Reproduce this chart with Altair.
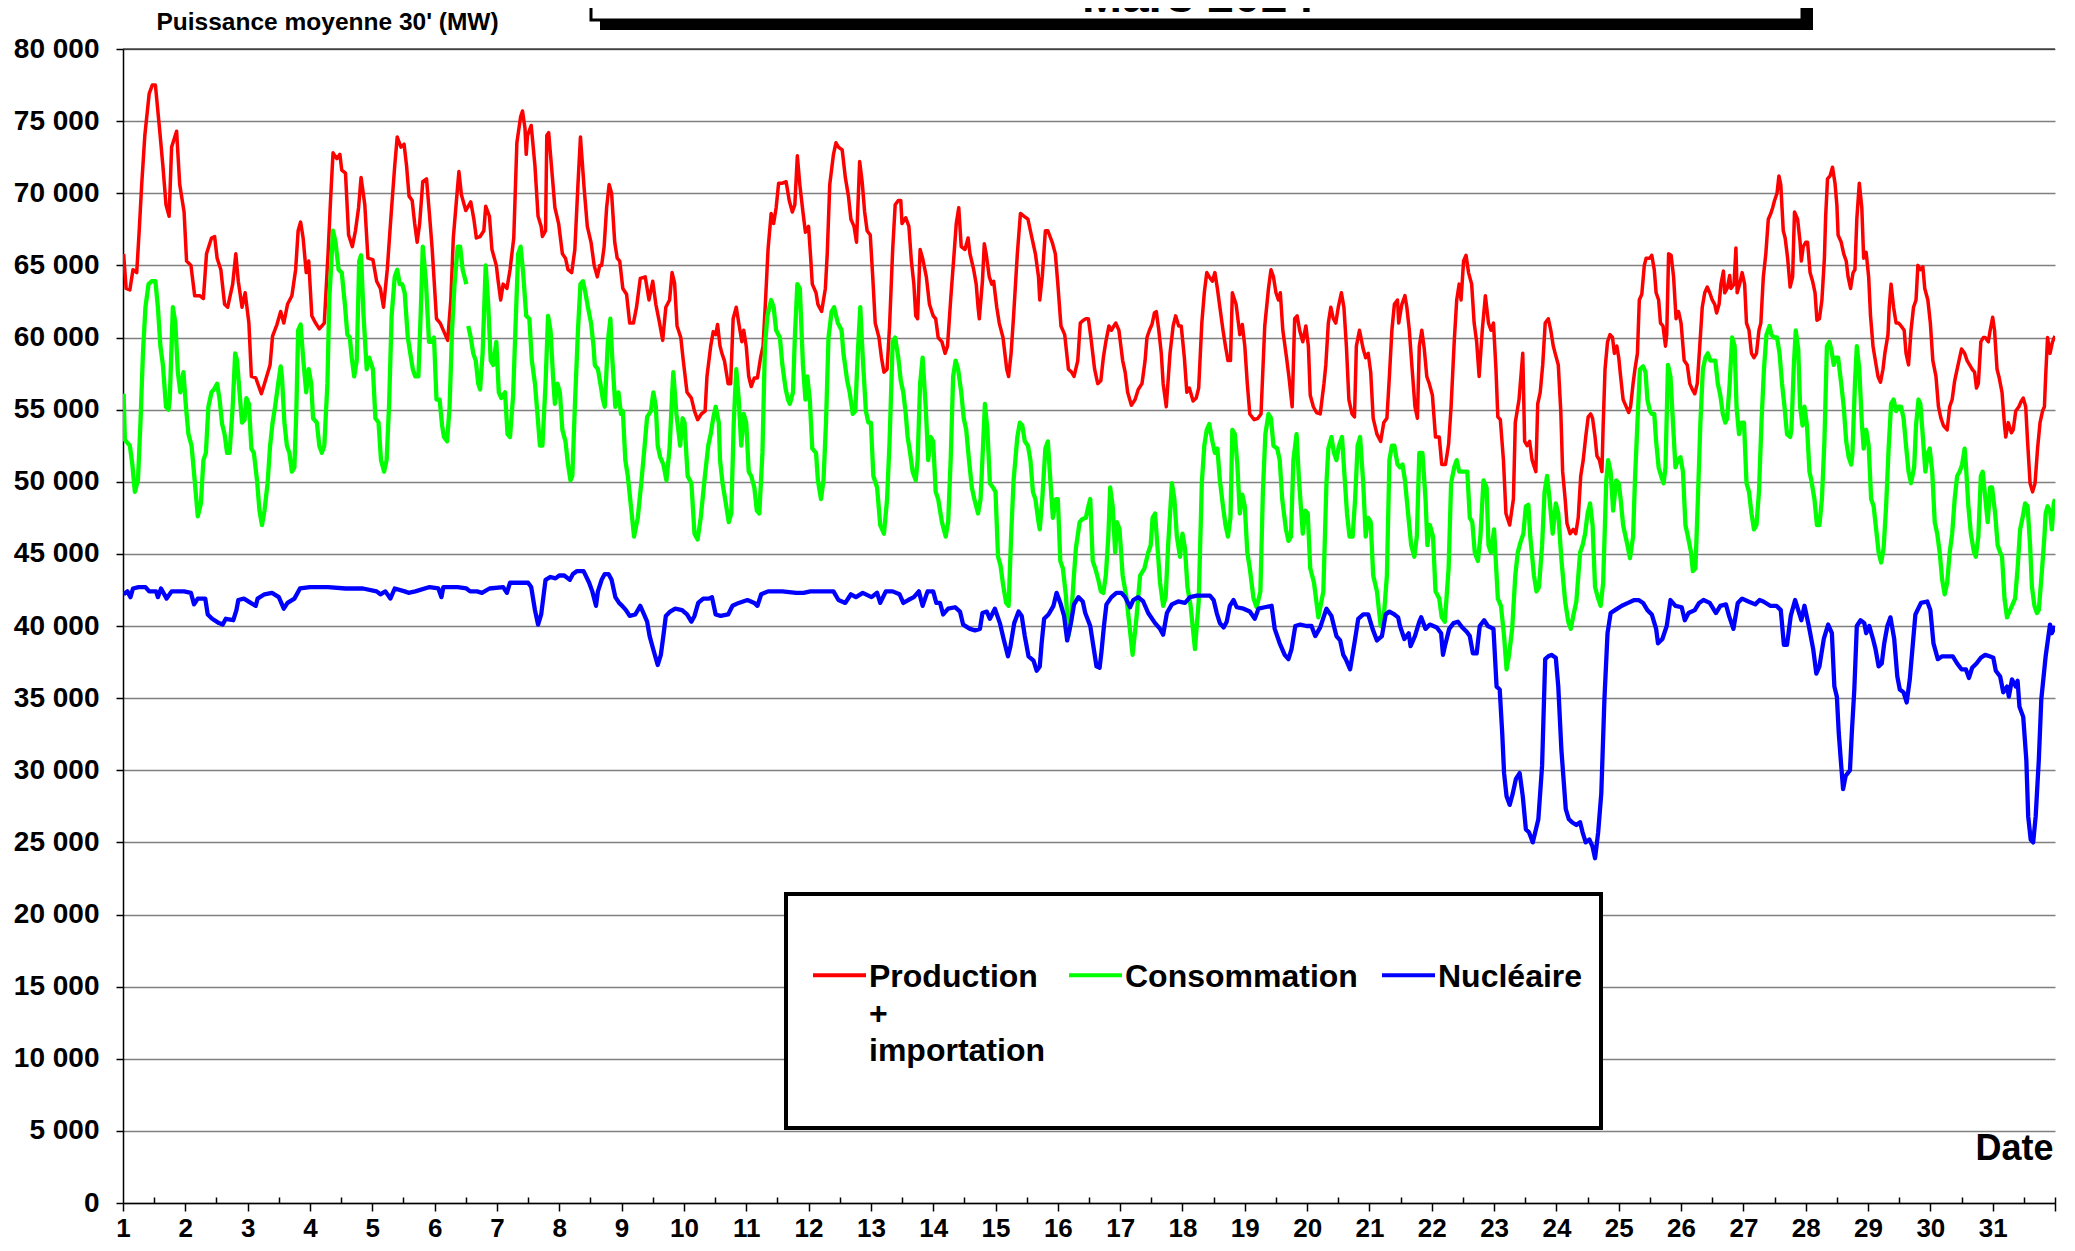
import altair as alt
import pandas as pd

SERIES = ["Production + importation", "Consommation", "Nucléaire"]
COLORS = ["#FF0000", "#00FF00", "#0000FF"]
DAY_TICKS = list(range(1, 33))
HALF_DAY_TICKS = [d + 0.5 for d in range(1, 32)] + [32]
Y_TICKS = list(range(0, 80001, 5000))
Y_TOP = [80000]

# (jour, MW)
PROD = [(1.01,65800),(1.05,63400),(1.11,63300),(1.16,64700),(1.22,64500),(1.26,67400),(1.30,70600),(1.35,74000),(1.42,76900),(1.47,77500),(1.52,77500),(1.59,74300),(1.64,71900),(1.69,69200),(1.74,68400),(1.78,73200),(1.86,74300),(1.91,70600),(1.98,68700),(2.02,65300),(2.09,65000),(2.15,62900),(2.23,62900),(2.29,62700),(2.34,65800),(2.42,66900),(2.47,67000),(2.51,65500),(2.57,64700),(2.63,62300),(2.68,62100),(2.76,63700),(2.81,65800),(2.85,63900),(2.91,62100),(2.96,63100),(3.02,61000),(3.06,57300),(3.13,57200),(3.22,56100),(3.27,56800),(3.36,58100),(3.40,60100),(3.47,60900),(3.53,61800),(3.58,61000),(3.64,62300),(3.71,62900),(3.77,64700),(3.81,67400),(3.85,68000),(3.89,66900),(3.94,64500),(3.98,65300),(4.03,61500),(4.09,61000),(4.15,60600),(4.23,61000),(4.29,65800),(4.33,69500),(4.37,72800),(4.43,72400),(4.48,72700),(4.51,71600),(4.57,71400),(4.62,67100),(4.68,66300),(4.73,67400),(4.78,69000),(4.82,71100),(4.88,69200),(4.93,65500),(5.01,65400),(5.07,63900),(5.13,63400),(5.18,62100),(5.24,64700),(5.30,68400),(5.36,71900),(5.40,73900),(5.46,73200),(5.51,73400),(5.55,71900),(5.59,69800),(5.64,69500),(5.68,67900),(5.72,66600),(5.76,67900),(5.81,70800),(5.87,71000),(5.92,68400),(5.96,66200),(6.03,61300),(6.09,61000),(6.17,60200),(6.21,59800),(6.26,62600),(6.30,66900),(6.36,70000),(6.39,71500),(6.43,69900),(6.50,68800),(6.58,69400),(6.63,68200),(6.67,66900),(6.73,67000),(6.79,67400),(6.82,69100),(6.88,68400),(6.92,66100),(6.99,65000),(7.02,63900),(7.06,62600),(7.10,63700),(7.16,63400),(7.21,64700),(7.27,66900),(7.32,73500),(7.38,75300),(7.41,75700),(7.45,74500),(7.47,72700),(7.49,74000),(7.55,74700),(7.61,71900),(7.66,68400),(7.71,67700),(7.73,67000),(7.78,67400),(7.80,74000),(7.83,74200),(7.89,71100),(7.93,69000),(7.99,67900),(8.05,65800),(8.10,65500),(8.14,64700),(8.20,64500),(8.25,66100),(8.30,70600),(8.34,73900),(8.40,70300),(8.45,67700),(8.51,66600),(8.56,65000),(8.61,64200),(8.65,65000),(8.68,65000),(8.72,66300),(8.76,69000),(8.80,70600),(8.84,70000),(8.89,66600),(8.93,65500),(8.97,65300),
(9.02,63400),(9.08,63000),(9.13,61000),(9.19,61000),(9.24,62100),(9.30,64100),(9.38,64200),(9.44,62600),(9.50,63900),(9.55,62300),(9.61,61000),(9.66,59800),(9.71,62100),(9.77,62600),(9.81,64500),(9.85,63800),(9.89,60800),(9.95,60000),(9.99,58400),(10.05,56200),(10.12,55800),(10.17,54900),(10.22,54300),(10.28,54700),(10.34,54900),(10.37,57300),(10.43,59400),(10.47,60400),(10.51,60200),(10.54,60900),(10.58,59400),(10.61,58900),(10.65,58400),(10.71,56800),(10.75,56800),(10.79,61300),(10.84,62100),(10.88,61000),(10.93,59700),(10.96,60500),(11.00,59400),(11.04,57300),(11.08,56600),(11.13,57200),(11.18,57200),(11.23,58600),(11.27,59400),(11.31,62600),(11.35,66100),(11.40,68600),(11.44,67900),(11.48,69000),(11.52,70700),(11.58,70700),(11.64,70800),(11.69,69500),(11.74,68700),(11.78,69200),(11.82,72600),(11.86,70600),(11.91,68700),(11.95,67300),(12.00,67700),(12.03,65800),(12.06,63700),(12.12,63100),(12.15,62300),(12.21,61800),(12.27,63400),(12.30,65800),(12.34,70600),(12.40,72700),(12.44,73500),(12.48,73200),(12.54,73000),(12.59,71100),(12.64,69800),(12.68,68200),(12.73,67700),(12.77,66600),(12.82,72200),(12.86,70800),(12.90,68700),(12.94,67400),(12.99,67100),(13.03,64200),(13.07,61000),(13.13,60000),(13.17,58600),(13.21,57600),(13.26,57800),(13.30,60800),(13.35,66100),(13.39,69200),(13.44,69500),(13.48,69500),(13.50,67900),(13.56,68300),(13.61,67700),(13.65,65300),(13.69,63700),(13.72,61500),(13.75,61300),(13.79,66100),(13.83,65500),(13.89,64200),(13.94,62300),(14.00,61500),(14.04,61300),(14.08,60000),(14.14,59700),(14.19,58900),(14.23,59400),(14.28,62600),(14.33,65500),(14.37,67900),(14.41,69000),(14.45,66300),(14.51,66100),(14.56,66900),(14.59,65800),(14.65,64700),(14.69,63700),(14.72,62100),(14.74,61300),(14.79,63900),(14.82,66500),(14.85,65800),(14.90,64200),(14.94,63700),(14.97,63900),(15.02,62100),(15.06,61000),(15.12,60000),(15.18,57800),(15.21,57300),(15.25,58900),(15.29,61500),(15.35,65800),(15.40,68600),(15.46,68400),(15.52,68200),(15.56,67400),(15.60,66600),(15.64,65800),(15.69,64200),(15.71,62600),(15.75,64200),(15.80,67400),(15.84,67400),(15.91,66600),(15.96,65800),(16.00,63700),(16.05,60800),(16.11,60200),(16.17,57800),(16.22,57600),(16.26,57300),(16.32,58400),(16.36,61000),(16.41,61200),(16.45,61300),(16.49,61300),(16.53,60000),(16.59,57800),(16.64,56800),(16.69,57000),(16.73,58600),(16.77,59700),(16.82,60800),(16.86,60500),(16.90,60800),(16.93,61000),(16.98,60500),
(17.04,58400),(17.08,57600),(17.12,56200),(17.18,55300),(17.24,55700),(17.29,56400),(17.35,56800),(17.40,58400),(17.43,60000),(17.47,60500),(17.51,60900),(17.55,61700),(17.58,61800),(17.62,60500),(17.66,58900),(17.69,56800),(17.74,55200),(17.80,58900),(17.85,60800),(17.89,61500),(17.94,60800),(17.98,60800),(18.03,58600),(18.07,56200),(18.11,56500),(18.17,55600),(18.22,55800),(18.26,56500),(18.31,61000),(18.35,63100),(18.39,64500),(18.43,64200),(18.48,63900),(18.52,64500),(18.56,63400),(18.60,62100),(18.65,60500),(18.69,59400),(18.73,58400),(18.77,58400),(18.80,63100),(18.86,62300),(18.92,60200),(18.96,60900),(19.00,59400),(19.04,56800),(19.08,54700),(19.15,54300),(19.21,54400),(19.26,54700),(19.32,60800),(19.38,63400),(19.42,64700),(19.46,64200),(19.50,63100),(19.54,62600),(19.57,63100),(19.61,60500),(19.67,58600),(19.71,57200),(19.76,55200),(19.80,61300),(19.84,61500),(19.88,60500),(19.93,59700),(19.98,60800),(20.02,59400),(20.05,56000),(20.10,55200),(20.15,54800),(20.21,54700),(20.27,56800),(20.30,58100),(20.34,61000),(20.38,62100),(20.42,61300),(20.46,61000),(20.50,62100),(20.55,63100),(20.59,62100),(20.63,59400),(20.67,55700),(20.72,54700),(20.76,54500),(20.79,59400),(20.84,60500),(20.90,59200),(20.94,58600),(20.98,58900),(21.02,57600),(21.06,54400),(21.12,53300),(21.18,52800),(21.23,54100),(21.28,54400),(21.32,57300),(21.36,60500),(21.40,62300),(21.45,62600),(21.47,61000),(21.52,62300),(21.57,62900),(21.60,62100),(21.64,60500),(21.68,58100),(21.73,55200),(21.77,54400),(21.80,59400),(21.84,60500),(21.88,59200),(21.92,57300),(21.96,56800),(22.01,56000),(22.06,53100),(22.12,53100),(22.16,51200),(22.22,51200),(22.27,52600),(22.31,55200),(22.36,59700),(22.40,62600),(22.44,63700),(22.47,62600),(22.51,65300),(22.55,65700),(22.59,64500),(22.64,63700),(22.68,61000),(22.72,59700),(22.76,57300),(22.81,60500),(22.86,62900),(22.91,61000),(22.95,60500),(22.99,61000),(23.03,57800),(23.06,54500),(23.10,54300),(23.15,51500),(23.19,47800),(23.25,47000),(23.31,48800),(23.34,54100),(23.40,55700),(23.46,58900),(23.49,52800),(23.53,52500),(23.57,52800),(23.61,51500),(23.67,50700),(23.70,55400),(23.74,56200),(23.78,58100),(23.82,61000),(23.87,61300),(23.91,60500),(23.95,59400),(23.98,58900),
(24.03,58100),(24.07,54900),(24.10,50700),(24.14,48800),(24.17,47100),(24.22,46400),(24.27,46700),(24.31,46400),(24.35,47500),(24.39,50400),(24.43,51500),(24.47,53100),(24.51,54500),(24.55,54700),(24.58,54400),(24.62,53100),(24.65,51800),(24.69,51500),(24.73,50700),(24.75,53900),(24.78,57800),(24.82,59700),(24.86,60200),(24.90,60000),(24.93,58900),(24.97,59400),(25.00,58600),(25.03,57300),(25.07,55700),(25.10,55400),(25.16,54800),(25.19,55200),(25.23,56800),(25.26,57800),(25.30,58900),(25.33,62600),(25.37,63000),(25.41,65000),(25.44,65500),(25.50,65500),(25.53,65700),(25.57,64700),(25.60,63100),(25.64,62600),(25.67,61000),(25.71,60800),(25.75,59400),(25.77,60200),(25.80,65800),(25.84,65700),(25.88,64200),(25.92,61300),(25.96,61800),(26.00,61000),(26.05,58400),(26.10,58100),(26.14,56800),(26.18,56400),(26.22,56100),(26.26,56800),(26.30,59400),(26.34,62100),(26.38,63100),(26.42,63500),(26.46,63100),(26.50,62600),(26.54,62300),(26.57,61700),(26.61,62300),(26.64,63700),(26.68,64600),(26.70,63100),(26.74,63400),(26.78,64300),(26.80,63400),(26.85,63700),(26.88,66200),(26.90,63100),(26.94,63700),(26.98,64500),(27.02,63700),(27.05,61000),(27.09,60500),(27.13,58900),(27.17,58600),(27.21,58900),(27.25,60500),(27.28,61000),(27.32,64200),(27.36,65800),(27.40,68200),(27.44,68600),(27.47,69000),(27.50,69500),(27.54,70000),(27.57,71200),(27.60,70600),(27.64,67400),(27.67,66900),(27.71,65500),(27.75,63500),(27.79,64200),(27.82,68700),(27.87,68200),(27.91,66600),(27.93,65300),(27.96,66300),(28.00,66600),(28.03,66600),(28.07,64500),(28.11,63900),(28.15,63100),(28.18,61200),(28.22,61300),(28.26,62600),(28.30,65500),(28.32,68400),(28.35,71000),(28.39,71200),(28.43,71800),(28.47,70700),(28.50,69200),(28.52,67100),(28.57,66600),(28.61,65800),(28.65,65300),(28.68,64200),(28.72,63400),(28.76,64500),(28.79,64700),(28.82,68200),(28.86,70700),(28.90,69000),(28.93,65500),(28.97,65900),(29.01,64200),(29.04,61500),(29.08,59400),(29.11,58600),(29.16,57300),(29.20,56900),(29.24,57800),(29.27,58900),(29.32,60200),(29.34,62100),(29.37,63700),(29.41,62100),(29.45,61000),(29.49,61000),(29.53,60800),(29.58,60500),(29.61,58900),(29.65,58100),(29.69,60500),(29.73,62100),(29.77,62600),(29.80,65000),(29.84,64700),(29.88,64900),(29.91,63400),(29.96,62600),(30.00,61000),(30.04,58400),(30.09,57300),(30.13,55200),(30.17,54400),(30.21,53900),(30.27,53600),(30.31,55200),(30.35,55700),(30.39,57000),(30.43,57800),(30.47,58600),(30.50,59200),(30.55,58900),(30.59,58400),(30.63,58100),(30.67,57800),(30.71,57600),(30.74,56500),(30.77,56800),(30.81,59700),(30.85,60000),(30.88,60000),(30.93,59700),(30.96,60500),(31.00,61400),(31.03,60500),(31.07,57800),(31.10,57300),(31.15,56200),(31.19,53900),(31.21,53100),(31.25,54100),(31.30,53400),(31.33,53600),(31.37,54900),(31.42,55200),(31.46,55600),(31.49,55800),(31.53,55200),(31.56,52800),(31.60,49900),(31.64,49300),(31.68,49900),(31.72,52300),(31.76,54100),(31.80,54900),(31.83,55200),(31.85,57300),(31.88,60000),(31.92,58900),(31.96,59700),(32.00,60100)]

# consumption: two pieces (short data gap around day 6.5)
CONSO_A = [(1.01,56100),(1.03,52900),(1.11,52500),(1.15,51200),(1.19,49300),(1.24,50100),(1.28,54100),(1.32,58900),(1.36,62100),(1.41,63700),(1.46,63900),(1.52,63900),(1.56,62100),(1.60,59400),(1.64,58100),(1.69,55200),(1.73,55000),(1.75,55700),(1.80,62100),(1.84,61000),(1.88,57600),(1.92,56200),(1.97,57600),(2.01,55200),(2.05,53300),(2.10,52500),(2.15,50100),(2.20,47600),(2.25,48500),(2.29,51500),(2.33,52000),(2.37,55200),(2.42,56200),(2.46,56400),(2.51,56800),(2.55,55700),(2.59,54000),(2.63,53300),(2.67,52000),(2.71,52000),(2.76,55200),(2.80,58900),(2.83,58400),(2.87,56200),(2.91,54100),(2.95,54300),(2.98,55800),(3.02,55400),(3.06,52300),(3.10,52000),(3.15,50100),(3.19,48000),(3.23,47000),(3.27,48000),(3.32,49900),(3.36,52500),(3.40,54100),(3.44,55200),(3.49,56800),(3.53,58000),(3.55,57300),(3.59,54100),(3.63,52500),(3.67,52000),(3.71,50700),(3.75,51000),(3.78,54700),(3.81,60500),(3.85,60900),(3.89,58600),(3.94,56200),(3.98,57800),(4.02,56800),(4.05,54400),(4.11,54100),(4.15,52500),(4.19,52000),(4.23,52500),(4.28,56800),(4.31,62600),(4.37,67400),(4.41,66600),(4.46,64700),(4.51,64500),(4.56,62300),(4.60,60200),(4.64,60000),(4.67,58600),(4.71,57300),(4.75,58400),(4.79,65300),(4.82,65700),(4.86,61500),(4.91,57800),(4.95,58600),(5.01,57800),(5.05,54400),(5.10,54100),(5.14,51500),(5.19,50700),(5.23,51500),(5.27,55400),(5.31,61500),(5.36,64200),(5.40,64700),(5.44,63700),(5.48,63700),(5.52,63100),(5.57,60000),(5.61,58900),(5.65,57800),(5.69,57300),(5.74,57300),(5.78,62100),(5.81,66300),(5.86,63900),(5.91,59700),(5.95,59700),(5.99,60000),(6.03,55700),(6.08,55700),(6.12,53900),(6.15,53100),(6.20,52800),(6.24,55200),(6.28,60500),(6.32,63700),(6.37,66300),(6.41,66300),(6.45,64700),(6.51,63700)]
CONSO_B = [(6.54,60800),(6.58,60000),(6.62,58900),(6.66,58400),(6.70,56800),(6.73,56400),(6.77,58900),(6.82,65000),(6.86,62300),(6.90,58400),(6.94,58100),(6.99,59700),(7.03,56200),(7.07,55800),(7.13,56200),(7.17,53300),(7.21,53100),(7.26,56000),(7.30,61000),(7.34,65800),(7.38,66300),(7.42,64500),(7.47,61500),(7.52,61300),(7.56,58400),(7.61,56800),(7.65,54700),(7.69,52500),(7.73,52500),(7.78,56800),(7.82,61500),(7.86,60500),(7.90,57300),(7.93,55400),(7.97,56800),(8.01,56200),(8.05,53600),(8.10,52800),(8.14,51200),(8.18,50100),(8.21,50400),(8.25,55200),(8.30,60500),(8.34,63700),(8.38,63900),(8.42,63100),(8.46,62100),(8.51,61000),(8.55,59400),(8.57,58100),(8.62,57800),(8.66,56800),(8.70,55700),(8.73,55200),(8.78,59700),(8.82,61300),(8.85,58600),(8.90,55200),(8.95,56200),(8.99,54700),
(9.02,54900),(9.06,51500),(9.10,50400),(9.15,48300),(9.20,46200),(9.26,47500),(9.32,50100),(9.37,52500),(9.41,54500),(9.47,54900),(9.51,56200),(9.55,55200),(9.58,52500),(9.62,51700),(9.67,51200),(9.72,50100),(9.77,52300),(9.81,56000),(9.83,57600),(9.88,54700),(9.94,52500),(9.98,54400),(10.01,54100),(10.06,50400),(10.12,49900),(10.17,46400),(10.22,46000),(10.27,47500),(10.33,50100),(10.39,52500),(10.43,53300),(10.47,54400),(10.51,55200),(10.56,54100),(10.58,51500),(10.62,49900),(10.68,48300),(10.72,47200),(10.76,47800),(10.80,54100),(10.84,57800),(10.88,55700),(10.92,52500),(10.96,54700),(11.00,54100),(11.04,50700),(11.08,50400),(11.13,49600),(11.17,48000),(11.21,47800),(11.26,52000),(11.30,59400),(11.34,61500),(11.40,62600),(11.44,62100),(11.48,60500),(11.54,60000),(11.58,58100),(11.63,56500),(11.67,55700),(11.70,55400),(11.75,56200),(11.78,60000),(11.82,63700),(11.86,63400),(11.91,58100),(11.95,55700),(11.98,57300),(12.02,55700),(12.06,52300),(12.12,52000),(12.15,50100),(12.20,48800),(12.24,50100),(12.28,54100),(12.32,60000),(12.37,61800),(12.41,62100),(12.47,61000),(12.53,60500),(12.56,58900),(12.62,57000),(12.66,56200),(12.71,54700),(12.75,54900),(12.79,58900),(12.83,62100),(12.87,58600),(12.92,54900),(12.96,54100),(13.00,54100),(13.04,50400),(13.10,49600),(13.15,47000),(13.21,46400),(13.26,48800),(13.30,52800),(13.35,59700),(13.39,60000),(13.44,58600),(13.48,57000),(13.52,56200),(13.56,54700),(13.59,53100),(13.63,52000),(13.67,50700),(13.72,50100),(13.75,51500),(13.79,56800),(13.83,58600),(13.88,55200),(13.92,51500),(13.96,53100),(14.00,52800),(14.04,49300),(14.08,48800),(14.14,47200),(14.20,46200),(14.24,47200),(14.28,51500),(14.32,57300),(14.36,58400),(14.40,57800),(14.45,56200),(14.49,54400),(14.53,53600),(14.57,51700),(14.62,49600),(14.66,48800),(14.72,47800),(14.76,48800),(14.80,52500),(14.83,55400),(14.87,53600),(14.91,49900),(14.96,49600),(15.00,49300),(15.04,44800),(15.08,44200),(15.12,42900),(15.17,41600),(15.21,41400),(15.25,46200),(15.29,50100),(15.35,53100),(15.39,54100),(15.43,53900),(15.47,52800),(15.52,52500),(15.56,51500),(15.60,49300),(15.64,48800),(15.69,47200),(15.71,46700),(15.75,48800),(15.80,52300),(15.84,52800),(15.88,50100),(15.92,47500),(15.97,48800),(16.00,48800),(16.04,44500),(16.08,44000),(16.13,42100),(16.17,39300),(16.21,40300),(16.25,43000),(16.29,45400),(16.35,47200),(16.39,47400),(16.45,47500),(16.49,48300),(16.52,48800),(16.56,44500),(16.60,44000),(16.65,43200),(16.69,42400),(16.73,42300),(16.77,43500),(16.81,46200),(16.84,49600),(16.88,48300),(16.92,45100),(16.95,47200),(16.99,46700),
(17.04,43500),(17.10,42000),(17.15,40000),(17.20,38000),(17.26,40500),(17.32,43500),(17.39,44000),(17.45,45100),(17.49,45600),(17.52,47500),(17.56,47800),(17.60,45400),(17.64,43000),(17.69,41400),(17.73,42000),(17.77,45600),(17.83,49900),(17.87,48800),(17.91,46200),(17.96,44800),(18.00,46400),(18.04,45400),(18.08,42700),(18.13,41400),(18.20,38400),(18.26,41700),(18.31,49900),(18.35,52500),(18.39,53600),(18.43,54000),(18.48,52800),(18.52,52000),(18.56,52300),(18.60,50100),(18.65,48300),(18.69,47000),(18.73,46200),(18.77,47500),(18.80,53600),(18.84,53300),(18.88,51200),(18.92,47800),(18.96,49100),(19.00,48300),(19.04,45100),(19.08,44000),(19.14,41900),(19.19,41300),(19.25,42400),(19.29,49300),(19.33,53300),(19.38,54700),(19.42,54400),(19.46,52500),(19.52,52300),(19.56,51500),(19.60,48800),(19.66,46700),(19.70,45900),(19.74,46200),(19.78,51500),(19.83,53300),(19.87,50100),(19.93,46400),(19.97,48000),(20.01,47800),(20.05,44000),(20.11,43000),(20.18,40600),(20.26,42400),(20.31,49900),(20.34,52300),(20.39,53100),(20.43,52000),(20.47,51500),(20.51,52500),(20.56,53100),(20.60,50400),(20.64,47800),(20.68,46200),(20.73,46200),(20.77,48800),(20.81,52500),(20.85,53100),(20.90,49900),(20.94,46200),(20.98,47500),(21.02,47200),(21.06,43500),(21.12,42400),(21.18,40000),(21.23,40600),(21.28,43500),(21.32,51500),(21.36,52500),(21.40,52500),(21.45,51200),(21.49,51000),(21.53,51200),(21.57,50100),(21.62,47800),(21.67,45600),(21.72,44800),(21.76,46200),(21.80,52000),(21.85,52000),(21.90,48800),(21.93,45600),(21.97,47000),(22.02,46200),(22.06,42400),(22.12,41900),(22.16,40600),(22.21,40300),(22.27,44000),(22.31,49900),(22.36,51000),(22.40,51500),(22.44,50700),(22.48,50700),(22.53,50700),(22.57,50700),(22.61,47500),(22.65,47200),(22.69,45100),(22.74,44500),(22.78,46200),(22.83,50100),(22.88,49600),(22.91,45600),(22.95,45100),(23.00,46700),(23.06,41900),(23.11,41400),(23.16,39300),(23.20,37000),(23.24,38000),(23.29,39800),(23.34,43500),(23.38,45100),(23.43,45900),(23.47,46400),(23.51,48300),(23.55,48400),(23.58,46200),(23.64,43500),(23.68,42400),(23.72,42700),(23.77,45600),(23.81,49300),(23.85,50400),(23.89,48800),(23.94,46400),(23.99,48500),
(24.03,47800),(24.08,44600),(24.14,41700),(24.19,40300),(24.23,39800),(24.28,40900),(24.32,41700),(24.38,45100),(24.42,45600),(24.46,46400),(24.50,47800),(24.54,48500),(24.58,47000),(24.62,42700),(24.67,41900),(24.71,41400),(24.75,43000),(24.80,50100),(24.83,51500),(24.87,50700),(24.91,48000),(24.96,50100),(25.00,49900),(25.03,48800),(25.07,47000),(25.10,46400),(25.14,45600),(25.18,44700),(25.23,46200),(25.26,50100),(25.30,54100),(25.34,57800),(25.39,58000),(25.43,57600),(25.46,55700),(25.50,54900),(25.53,54700),(25.57,54700),(25.60,52800),(25.64,51000),(25.68,50400),(25.72,49900),(25.75,51000),(25.79,58100),(25.83,57300),(25.87,54100),(25.91,51000),(25.95,51500),(25.99,51700),(26.03,50700),(26.07,47000),(26.11,46200),(26.16,45100),(26.19,43800),(26.23,44000),(26.27,48800),(26.31,54100),(26.35,57800),(26.39,58600),(26.43,58900),(26.47,58400),(26.51,58400),(26.55,58400),(26.59,56800),(26.63,56000),(26.67,54700),(26.71,54100),(26.74,54400),(26.78,56800),(26.82,60000),(26.86,59400),(26.89,55200),(26.93,53300),(26.97,54100),(27.01,54100),(27.05,49900),(27.09,49300),(27.13,47800),(27.17,46700),(27.21,47000),(27.25,49300),(27.29,54100),(27.33,57800),(27.37,60200),(27.42,60800),(27.45,60200),(27.49,60000),(27.54,60000),(27.58,58900),(27.62,56800),(27.66,55200),(27.70,53300),(27.75,53100),(27.77,53600),(27.81,58100),(27.84,60500),(27.88,59200),(27.91,55200),(27.95,53900),(27.98,55200),(28.02,53900),(28.06,50700),(28.09,50100),(28.14,48800),(28.18,47000),(28.22,47000),(28.26,48800),(28.30,52800),(28.34,59400),(28.38,59700),(28.41,59200),(28.45,58100),(28.48,58600),(28.52,58600),(28.57,56800),(28.61,55200),(28.65,52800),(28.69,51700),(28.73,51200),(28.75,52000),(28.79,56800),(28.82,59400),(28.86,57800),(28.90,54100),(28.93,52300),(28.97,53600),(29.01,52500),(29.05,48800),(29.09,48300),(29.13,46700),(29.17,45100),(29.21,44400),(29.25,45400),(29.29,48300),(29.33,52300),(29.37,55400),(29.41,55700),(29.45,54900),(29.49,55200),(29.53,55200),(29.57,54400),(29.61,52500),(29.65,50700),(29.69,49900),(29.74,51000),(29.77,53900),(29.81,55700),(29.84,55400),(29.88,53100),(29.92,50700),(29.96,52000),(29.99,52300),(30.03,50700),(30.07,47200),(30.11,46400),(30.15,45100),(30.19,43200),(30.23,42200),(30.27,43000),(30.31,45100),(30.35,46400),(30.39,48800),(30.43,50400),(30.47,50700),(30.51,51200),(30.55,52300),(30.57,51200),(30.61,48300),(30.65,46400),(30.70,45100),(30.73,44800),(30.77,46200),(30.81,50400),(30.84,50700),(30.89,48500),(30.92,47200),(30.96,49600),(30.99,49600),(31.04,47800),(31.08,45600),(31.12,45100),(31.15,44800),(31.19,41900),(31.23,40600),(31.26,40900),(31.31,41400),(31.36,41900),(31.40,44000),(31.44,46700),(31.48,47500),(31.52,48500),(31.56,48300),(31.60,45600),(31.63,42700),(31.67,41400),(31.71,40900),(31.74,41100),(31.79,43800),(31.83,46200),(31.85,47800),(31.88,48300),(31.92,48000),(31.95,46700),(31.98,48500),(32.00,48800)]

NUCL = [(1.01,42200),(1.07,42400),(1.12,42000),(1.16,42600),(1.25,42700),(1.36,42700),(1.42,42400),(1.53,42400),(1.56,42000),(1.61,42600),(1.70,41900),(1.78,42400),(1.89,42400),(1.98,42400),(2.09,42300),(2.14,41500),(2.20,41900),(2.32,41900),(2.36,40800),(2.43,40500),(2.54,40200),(2.60,40100),(2.65,40500),(2.77,40400),(2.82,41100),(2.85,41800),(2.94,41900),(3.05,41600),(3.13,41400),(3.16,41900),(3.27,42200),(3.39,42300),(3.50,42000),(3.58,41200),(3.64,41600),(3.75,41900),(3.84,42600),(4.00,42700),(4.29,42700),(4.57,42600),(4.85,42600),(5.07,42400),(5.13,42200),(5.21,42400),(5.29,41900),(5.36,42600),(5.52,42400),(5.58,42300),(5.69,42400),(5.92,42700),(6.06,42600),(6.11,42000),(6.14,42700),(6.37,42700),(6.51,42600),(6.57,42400),(6.68,42400),(6.76,42300),(6.88,42600),(7.10,42700),(7.16,42300),(7.21,43000),(7.50,43000),(7.55,42700),(7.61,41100),(7.66,40100),(7.71,40800),(7.78,43200),(7.86,43400),(7.94,43300),(8.00,43500),(8.08,43500),(8.17,43200),(8.22,43600),(8.28,43800),(8.39,43800),(8.48,43000),(8.53,42400),(8.59,41400),(8.62,42400),(8.68,43200),(8.73,43600),(8.79,43600),(8.84,43200),(8.90,42000),(8.96,41600),
(9.01,41400),(9.07,41100),(9.13,40700),(9.22,40800),(9.30,41400),(9.36,40800),(9.41,40300),(9.45,39300),(9.52,38200),(9.58,37300),(9.63,38000),(9.67,39300),(9.71,40700),(9.78,41000),(9.86,41200),(9.97,41100),(10.05,40800),(10.12,40300),(10.17,40700),(10.23,41600),(10.31,41900),(10.40,41900),(10.45,42000),(10.51,40800),(10.59,40700),(10.71,40800),(10.78,41400),(10.88,41600),(11.02,41800),(11.13,41600),(11.18,41400),(11.24,42200),(11.35,42400),(11.58,42400),(11.80,42300),(11.92,42300),(12.03,42400),(12.26,42400),(12.40,42400),(12.48,41800),(12.59,41600),(12.68,42200),(12.76,42000),(12.87,42300),(13.01,42000),(13.10,42300),(13.15,41600),(13.24,42400),(13.35,42400),(13.46,42200),(13.52,41600),(13.60,41800),(13.69,42000),(13.77,42400),(13.83,41400),(13.91,42400),(14.00,42400),(14.05,41600),
(14.11,41600),(14.16,40800),(14.24,41200),(14.35,41300),(14.43,41000),(14.48,40100),(14.59,39800),(14.67,39700),(14.75,39800),(14.79,40900),(14.86,41000),(14.91,40500),(14.99,41200),(15.07,40200),(15.13,39100),(15.20,37900),(15.24,38600),(15.30,40200),(15.37,41000),(15.42,40700),(15.47,39300),(15.53,37900),(15.61,37600),(15.66,36900),(15.71,37200),(15.74,38800),(15.78,40500),(15.85,40800),(15.93,41400),(15.98,42300),(16.04,41600),(16.10,40700),(16.15,39000),(16.21,40200),(16.26,41500),(16.33,42000),(16.40,41700),(16.44,40900),(16.52,40000),(16.57,38600),(16.62,37200),(16.67,37100),(16.70,38200),(16.74,40000),(16.78,41500),(16.86,42000),(16.94,42300),(17.02,42300),(17.08,42000),(17.16,41300),(17.21,41800),(17.29,42000),(17.37,41700),(17.45,40900),(17.56,40200),(17.64,39800),(17.69,39400),(17.75,40900),(17.83,41500),(17.93,41700),(18.04,41600),(18.12,42000),(18.23,42100),(18.33,42100),(18.44,42100),(18.50,41800),(18.55,40900),(18.60,40200),(18.66,39900),(18.71,40300),(18.76,41400),(18.82,41800),(18.87,41300),(18.98,41200),(19.08,41000),(19.16,40500),(19.22,41200),(19.32,41300),(19.43,41400),(19.48,39800),(19.56,38800),(19.64,38000),(19.70,37700),(19.75,38400),(19.81,40000),(19.89,40100),(19.99,40000),(20.07,40000),(20.13,39300),(20.21,39900),(20.31,41200),(20.39,40700),(20.47,39300),(20.53,39000),(20.58,38000),(20.62,37700),(20.69,37000),(20.77,39100),(20.82,40500),
(20.90,40800),(20.98,40800),(21.05,39800),(21.12,39000),(21.20,39300),(21.26,40800),(21.32,41000),(21.40,40800),(21.46,40600),
(21.49,40000),(21.56,39100),(21.63,39500),(21.66,38600),(21.73,39300),(21.80,40300),(21.83,40600),(21.90,39800),(21.97,40100),(22.08,39900),(22.15,39500),(22.18,38000),(22.21,38600),(22.28,39800),(22.35,40200),(22.42,40300),(22.49,39900),(22.56,39600),(22.61,39300),(22.66,38100),(22.72,38100),(22.77,40000),(22.84,40400),(22.90,40000),(22.99,39800),(23.04,35800),(23.09,35600),(23.13,32600),(23.16,29800),(23.20,28200),(23.25,27600),(23.30,28400),(23.35,29400),(23.41,29800),(23.46,28200),(23.51,25900),(23.56,25700),(23.62,25000),(23.66,25700),(23.71,26600),(23.77,30300),(23.82,37700),(23.87,37900),(23.92,38000),(23.99,37800),(24.03,35800),(24.08,31400),(24.15,27300),(24.20,26600),(24.25,26400),(24.32,26200),(24.38,26400),(24.42,25700),(24.47,25000),(24.53,25200),(24.58,24700),(24.62,23900),(24.67,25700),(24.72,28400),(24.77,34900),(24.82,39500),(24.87,40900),(24.94,41100),(25.05,41400),(25.15,41600),(25.25,41800),(25.32,41800),(25.39,41600),(25.46,41100),(25.53,40800),(25.60,39800),(25.63,38800),(25.70,39100),(25.77,40000),(25.83,41800),(25.91,41400),(26.01,41300),(26.06,40400),(26.12,40900),(26.22,41100),(26.29,41600),(26.36,41800),(26.46,41600),(26.56,40900),(26.63,41400),(26.72,41500),(26.77,40700),(26.84,39800),(26.91,41600),(26.98,41900),(27.08,41700),(27.19,41500),(27.26,41800),(27.32,41700),(27.43,41400),(27.53,41400),(27.60,41100),(27.65,38700),(27.70,38700),(27.76,40700),(27.83,41800),(27.88,41100),(27.93,40400),(27.98,41400),(28.05,40000),(28.12,38400),(28.17,36700),(28.22,37200),(28.29,39100),(28.36,40100),(28.42,39500),(28.46,35800),(28.50,35100),(28.53,32600),(28.57,30300),(28.60,28700),(28.64,29600),(28.71,30000),(28.74,32600),(28.78,35600),(28.82,40000),(28.88,40400),(28.94,40200),(28.97,39500),(29.02,40000),(29.08,39100),(29.12,38400),(29.17,37200),(29.22,37400),(29.26,38800),(29.31,40000),(29.36,40600),(29.42,39100),(29.47,36500),(29.51,35600),(29.57,35400),(29.62,34700),(29.67,36300),(29.72,38800),(29.76,40800),(29.85,41600),(29.95,41700),(30.00,41100),(30.05,38800),(30.12,37700),(30.19,37900),(30.29,37900),(30.36,37900),(30.43,37400),(30.50,37000),(30.57,37000),(30.62,36400),(30.67,37100),(30.74,37400),(30.81,37800),(30.88,38000),(30.95,37900),(31.01,37800),(31.05,36900),(31.12,36500),(31.17,35400),(31.23,35800),(31.26,35100),(31.31,36300),(31.37,35800),(31.40,36200),(31.43,34400),(31.49,33700),(31.54,30700),(31.57,26800),(31.61,25200),(31.65,25000),(31.69,26800),(31.74,30700),(31.78,34900),(31.85,37900),(31.92,40100),(31.95,39500),(32.00,40000)]


def frame(points, serie, seg):
    return pd.DataFrame({"jour": [p[0] for p in points], "mw": [p[1] for p in points],
                         "serie": serie, "seg": seg})


df_prod = frame(PROD, SERIES[0], 0)
df_conso = pd.concat([frame(CONSO_A, SERIES[1], 0), frame(CONSO_B, SERIES[1], 1)])
df_nucl = frame(NUCL, SERIES[2], 0)

W, H = 1932, 1154
FONT = "Liberation Sans"

xs = alt.Scale(domain=[1, 32], nice=False, zero=False)
ys = alt.Scale(domain=[0, 80000], nice=False, zero=True)
cs = alt.Scale(domain=SERIES, range=COLORS)

x_axis = alt.Axis(
    values=DAY_TICKS, labelExpr="datum.value == 32 ? '' : datum.label",
    orient="bottom", grid=False, tickSize=8, tickWidth=1.5, tickColor="black",
    domainColor="black", domainWidth=1.5, labelFont=FONT, labelFontSize=26,
    labelFontWeight="bold", labelColor="black", labelPadding=4, labelFlush=False,
    labelOverlap=False, title="Date", titleFont=FONT, titleFontSize=36,
    titleFontWeight="bold", titleColor="black", titleAlign="right",
    titleBaseline="alphabetic", titleX=1930, titleY=-44)

y_axis = alt.Axis(
    values=Y_TICKS, orient="left",
    labelExpr="datum.value >= 1000 ? floor(datum.value / 1000) + ' 000' : '0'",
    grid=True, gridColor="#808080", gridWidth=1.6, tickSize=7, tickWidth=1.5,
    tickColor="black", domainColor="black", domainWidth=1.5, labelFont=FONT,
    labelFontSize=28, labelFontWeight="bold", labelColor="black", labelPadding=17,
    title="Puissance moyenne 30' (MW)", titleFont=FONT, titleFontSize=24.5,
    titleFontWeight="bold", titleColor="black", titleAngle=0, titleAlign="left",
    titleBaseline="middle", titleX=33, titleY=-27)

minor_axis = alt.Axis(
    values=HALF_DAY_TICKS, orient="top", offset=-H, labels=False, domain=False,
    grid=False, ticks=True, tickSize=6, tickWidth=1.5, tickColor="black", title=None)

legend = alt.Legend(
    title=None, orient="none", legendX=688, legendY=909, direction="horizontal",
    columns=3, symbolType="M-1,-0.43L1,-0.43", symbolSize=2809, symbolStrokeWidth=4,
    labelFont=FONT, labelFontSize=32, labelFontWeight="bold", labelColor="black",
    labelOffset=1, labelLimit=0, columnPadding=16, padding=0, labelBaseline="alphabetic",
    labelExpr="datum.label == 'Production + importation' ? ['Production', '+', 'importation'] : [datum.label, ' ', ' ']",
    zindex=3)


def line_layer(df, width, first=False):
    return alt.Chart(df).mark_line(strokeWidth=width, strokeJoin="round", clip=True).encode(
        x=alt.X("jour:Q", scale=xs, axis=x_axis if first else None),
        y=alt.Y("mw:Q", scale=ys, axis=y_axis),
        color=alt.Color("serie:N", scale=cs, legend=legend),
        detail="seg:N",
    )


one = pd.DataFrame({"k": [0]})

top_line = alt.Chart(pd.DataFrame({"mw": Y_TOP})).mark_rule(color="black", strokeWidth=1.2).encode(
    y=alt.Y("mw:Q", scale=ys, axis=y_axis))

minor_ticks = alt.Chart(pd.DataFrame({"jour": HALF_DAY_TICKS})).mark_point(opacity=0).encode(
    x=alt.X("jour:Q", scale=xs, axis=minor_axis))

legend_box = alt.Chart(one).mark_rect(fill="white", stroke="black", strokeWidth=4).encode(
    x=alt.value(663), x2=alt.value(1478), y=alt.value(845), y2=alt.value(1079))

title_shadow = alt.Chart(one).mark_rect(fill="black").encode(
    x=alt.value(477), x2=alt.value(1690), y=alt.value(-80), y2=alt.value(-19))
title_box = alt.Chart(one).mark_rect(fill="white", stroke="black", strokeWidth=3).encode(
    x=alt.value(468), x2=alt.value(1679), y=alt.value(-80), y2=alt.value(-29))
title_text = alt.Chart(one).mark_text(
    text="Mars 2024", font=FONT, fontSize=48, fontWeight="bold", color="black",
    align="center", baseline="alphabetic").encode(x=alt.value(1075), y=alt.value(-37))

chart = alt.layer(
    top_line,
    line_layer(df_prod, 3.5, first=True),
    line_layer(df_conso, 4.3),
    line_layer(df_nucl, 4.3),
    minor_ticks,
    legend_box,
    title_shadow,
    title_box,
    title_text,
).resolve_axis(x="independent").properties(
    width=W, height=H,
    autosize=alt.AutoSizeParams(type="none"),
    padding={"left": 115, "top": 41, "right": 12, "bottom": 40},
).configure(
    font=FONT, background="white", style={"guide-label": {"lineHeight": 37}}
).configure_view(stroke=None)

chart.save("out.html", embed_options={"renderer": "svg", "actions": False})
